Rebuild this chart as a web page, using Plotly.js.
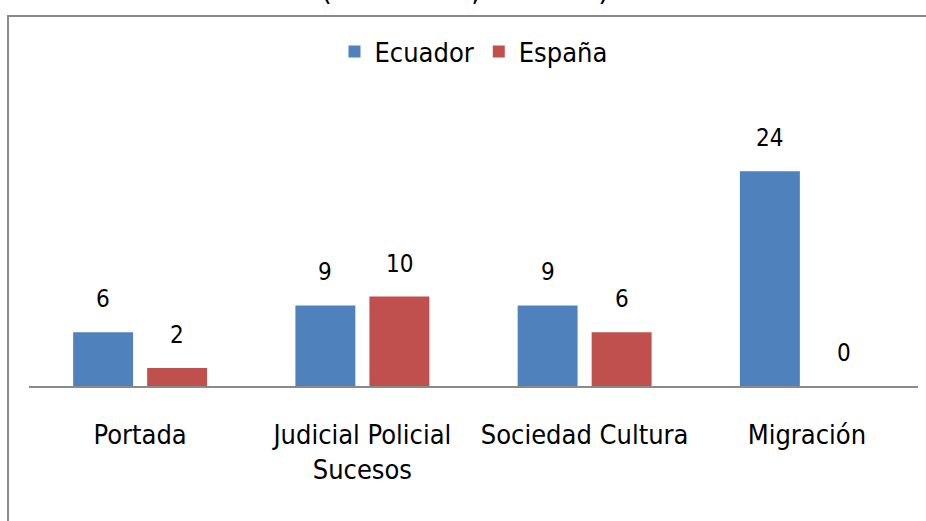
<!DOCTYPE html>
<html>
<head>
<meta charset="utf-8">
<script src="https://cdn.plot.ly/plotly-3.0.1.min.js"></script>
<style>
html,body{margin:0;padding:0;background:#fff;}
#chart{width:926px;height:521px;}
</style>
</head>
<body>
<div id="chart"></div>
<script>
const categories = ["Portada", "Judicial Policial<br>Sucesos", "Sociedad Cultura", "Migración"];
const seriesNames = ["Ecuador", "España"];
const ecuador = [6, 9, 9, 24];
const espana = [2, 10, 6, 0];
const titleText = "(ECUADOR, ESPAÑA)";

const colors = ["#4F81BD", "#C0504D"];
const FONT = "'DejaVu Sans Condensed', 'DejaVu Sans', sans-serif";
const seriesValues = [ecuador, espana];

const traces = seriesValues.map((vals, i) => ({
  type: "bar",
  name: seriesNames[i],
  x: categories,
  y: vals,
  marker: {color: colors[i]},
  hoverinfo: "x+y"
}));

const annotations = [];
seriesValues.forEach((vals, i) => {
  vals.forEach((v, j) => {
    annotations.push({
      x: categories[j], y: v, xref: "x", yref: "y",
      xshift: i === 0 ? -37 : 37, yshift: 33,
      text: String(v), showarrow: false,
      xanchor: "center", yanchor: "middle",
      font: {family: FONT, size: 24, color: "#000"}
    });
  });
});
annotations.push({
  x: 0.4904, y: 1.299, xref: "paper", yref: "paper",
  text: titleText, showarrow: false, xanchor: "center", yanchor: "middle",
  font: {family: FONT, size: 31, color: "#000"}
});

const layout = {
  width: 926, height: 521,
  margin: {l: 29, r: 8, t: 80, b: 135},
  paper_bgcolor: "#fff", plot_bgcolor: "#fff",
  barmode: "group",
  bargap: 0.334,
  bargroupgap: 0.19,
  showlegend: true,
  legend: {
    orientation: "h", x: 0.5, xanchor: "center", y: 1.092, yanchor: "middle",
    font: {family: FONT, size: 27, color: "#000"},
    itemwidth: 30, traceorder: "normal"
  },
  xaxis: {
    showline: true, linecolor: "#8a8a8a", linewidth: 1.5,
    ticks: "", showgrid: false, zeroline: false,
    tickfont: {family: FONT, size: 27, color: "#000"},
    ticklabelstandoff: 24,
    fixedrange: true
  },
  yaxis: {
    range: [0, 34.2], visible: false, showgrid: false, zeroline: false, fixedrange: true
  },
  shapes: [{
    type: "rect", xref: "paper", yref: "paper",
    x0: -0.0236, x1: 1.1, y0: -0.6, y1: 1.209,
    line: {color: "#8a8a8a", width: 2}, fillcolor: "rgba(0,0,0,0)", layer: "above"
  }],
  annotations: annotations
};

Plotly.newPlot("chart", traces, layout, {displayModeBar: false, staticPlot: true});
</script>
</body>
</html>
